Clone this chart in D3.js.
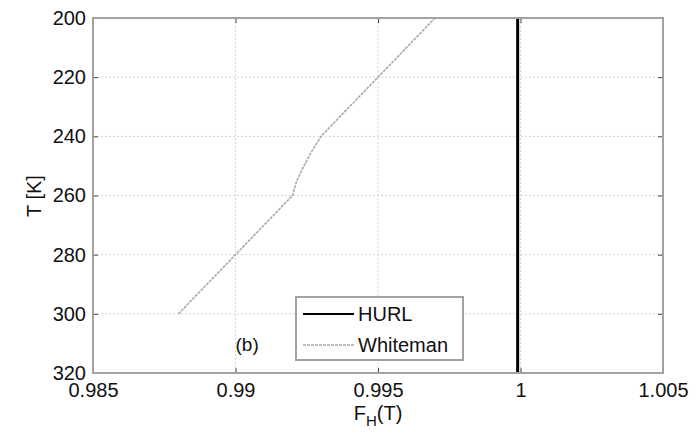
<!DOCTYPE html>
<html>
<head>
<meta charset="utf-8">
<script src="https://cdn.jsdelivr.net/npm/d3@7"></script>
<style>
  html, body { margin: 0; padding: 0; background: #fff; }
  svg { display: block; font-family: "Liberation Sans", Arial, Helvetica, sans-serif; }
</style>
</head>
<body>
<svg id="chart" width="700" height="433"></svg>
<script>
// Temperature (K) and correction factor for the two models
const hurlT = [200, 220, 240, 260, 280, 300, 320];
const hurlF = [0.9999, 0.9999, 0.9999, 0.9999, 0.9999, 0.9999, 0.9999];

const whitemanT = [300, 290, 280, 270, 260, 255, 250, 245, 240, 230, 220, 210, 200];
const whitemanF = [0.988, 0.989, 0.990, 0.991, 0.992, 0.99215, 0.9924, 0.99268, 0.993, 0.994, 0.995, 0.996, 0.997];

const xTicks = [0.985, 0.99, 0.995, 1, 1.005];
const xTickLabels = ["0.985", "0.99", "0.995", "1", "1.005"];
const yTicks = [200, 220, 240, 260, 280, 300, 320];
const yTickLabels = ["200", "220", "240", "260", "280", "300", "320"];

const seriesNames = ["HURL", "Whiteman"];
const panelLabel = "(b)";

const svg = d3.select("#chart");
const margin = { left: 93, right: 37, top: 18, bottom: 60 };
const W = 700, H = 433;
const iw = W - margin.left - margin.right;
const ih = H - margin.top - margin.bottom;

const x = d3.scaleLinear().domain([0.985, 1.005]).range([margin.left, margin.left + iw]);
const y = d3.scaleLinear().domain([200, 320]).range([margin.top, margin.top + ih]);

const textColor = "#111";
const fontSize = 20;

// grid lines
const grid = svg.append("g").attr("stroke", "#d4d4d4").attr("stroke-width", 1).attr("stroke-dasharray", "2,2");
grid.selectAll("line.gx").data(xTicks.slice(1, -1)).join("line")
  .attr("x1", d => x(d)).attr("x2", d => x(d))
  .attr("y1", margin.top).attr("y2", margin.top + ih);
grid.selectAll("line.gy").data(yTicks.slice(1, -1)).join("line")
  .attr("x1", margin.left).attr("x2", margin.left + iw)
  .attr("y1", d => y(d)).attr("y2", d => y(d));

// data lines
const line = d3.line().x(d => x(d[0])).y(d => y(d[1]));
const whitemanPts = whitemanF.map((f, i) => [f, whitemanT[i]]);
const hurlPts = hurlF.map((f, i) => [f, hurlT[i]]);

svg.append("path").datum(whitemanPts)
  .attr("d", line).attr("fill", "none")
  .attr("stroke", "#a9a9a9").attr("stroke-width", 1.6)
  .attr("stroke-dasharray", "3,1");

svg.append("path").datum(hurlPts)
  .attr("d", line).attr("fill", "none")
  .attr("stroke", "#000").attr("stroke-width", 3);

// axes (box with inward ticks on all sides)
const tickLen = 5;
const axB = d3.axisBottom(x).tickValues(xTicks).tickSize(-tickLen).tickPadding(10)
  .tickFormat((d, i) => xTickLabels[i]);
const axT = d3.axisTop(x).tickValues(xTicks).tickSize(-tickLen).tickFormat("");
const axL = d3.axisLeft(y).tickValues(yTicks).tickSize(-tickLen).tickPadding(7)
  .tickFormat((d, i) => yTickLabels[i]);
const axR = d3.axisRight(y).tickValues(yTicks).tickSize(-tickLen).tickFormat("");

function styleAxis(g) {
  g.select(".domain").remove();
  g.selectAll(".tick line").attr("stroke", "#444").attr("stroke-width", 1);
  g.selectAll(".tick text").attr("fill", textColor)
    .style("font-size", fontSize + "px").style("font-family", "'Liberation Sans', Arial, sans-serif");
}
svg.append("g").attr("transform", `translate(0,${margin.top + ih})`).call(axB).call(styleAxis);
svg.append("g").attr("transform", `translate(0,${margin.top})`).call(axT).call(styleAxis);
svg.append("g").attr("transform", `translate(${margin.left},0)`).call(axL).call(styleAxis);
svg.append("g").attr("transform", `translate(${margin.left + iw},0)`).call(axR).call(styleAxis);

svg.append("rect")
  .attr("x", margin.left).attr("y", margin.top).attr("width", iw).attr("height", ih)
  .attr("fill", "none").attr("stroke", "#a2a2a2").attr("stroke-width", 2);

// axis labels
svg.append("text")
  .attr("transform", `translate(34,196) rotate(-90)`)
  .attr("text-anchor", "middle").attr("dominant-baseline", "central")
  .attr("fill", textColor).style("font-size", fontSize + "px")
  .text("T [K]");

const xl = svg.append("text")
  .attr("x", margin.left + iw / 2).attr("y", 420)
  .attr("text-anchor", "middle")
  .attr("fill", textColor).style("font-size", fontSize + "px");
xl.append("tspan").text("F");
xl.append("tspan").attr("dy", 6).style("font-size", "15px").text("H");
xl.append("tspan").attr("dy", -6).text("(T)");

// panel label
svg.append("text")
  .attr("x", x(0.99)).attr("y", y(310.5))
  .attr("dominant-baseline", "central")
  .attr("fill", textColor).style("font-size", "19px")
  .text(panelLabel);

// legend
const lg = svg.append("g").attr("transform", "translate(296,297)");
lg.append("rect").attr("width", 167).attr("height", 63)
  .attr("fill", "#fff").attr("stroke", "#a2a2a2").attr("stroke-width", 2);
const legendItems = [
  { name: seriesNames[0], stroke: "#000", width: 2, dash: null },
  { name: seriesNames[1], stroke: "#a9a9a9", width: 1.6, dash: "3,1" }
];
legendItems.forEach((it, i) => {
  const cy = 17 + i * 31;
  lg.append("line").attr("x1", 7).attr("x2", 58).attr("y1", cy).attr("y2", cy)
    .attr("stroke", it.stroke).attr("stroke-width", it.width)
    .attr("stroke-dasharray", it.dash);
  lg.append("text").attr("x", 62).attr("y", cy).attr("dominant-baseline", "central")
    .attr("fill", textColor).style("font-size", fontSize + "px").text(it.name);
});
</script>
</body>
</html>
